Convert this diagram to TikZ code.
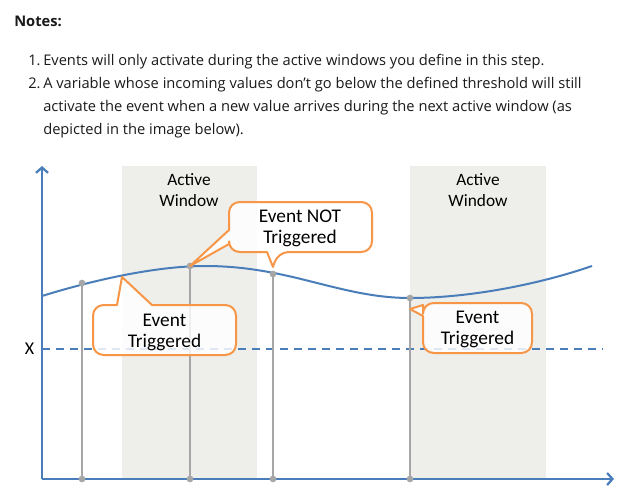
\documentclass[tikz,border=0pt]{standalone}
\usepackage{fontspec}
\setmainfont{Carlito}
\newfontfamily\notesfont{Open Sans}
\usetikzlibrary{arrows.meta}
\definecolor{axisblue}{HTML}{4A7EBB}
\definecolor{bubbleorange}{HTML}{F79646}
\definecolor{windowgray}{HTML}{EEEFEA}
\definecolor{samplegray}{HTML}{A6A6A6}
\definecolor{notetext}{HTML}{1A1A1A}

\begin{document}
\begin{tikzpicture}[x=0.75pt,y=-0.75pt,
  axis/.style={axisblue,line width=1.7pt,-{Straight Barb[length=4pt,width=9pt]}},
  window/.style={fill=windowgray,draw=none},
  sample/.style={samplegray,line width=1.5pt},
  dot/.style={circle,fill=samplegray,inner sep=0pt,minimum size=5pt},
  bubble/.style={draw=bubbleorange,line width=1.5pt,fill=white,fill opacity=0.82,line join=round},
  bubbletext/.style={align=center,inner sep=0pt,font=\fontsize{14.5}{15.75}\selectfont},
  wintext/.style={align=center,inner sep=0pt,font=\fontsize{13}{15.75}\selectfont},
  notes/.style={anchor=base west,inner sep=0pt,text=notetext,font=\notesfont\fontsize{11}{13}\selectfont}]
  \useasboundingbox[fill=white] (0,0) rectangle (637,500);

  % notes above the chart
  \node[notes,font=\notesfont\bfseries\fontsize{11}{13}\selectfont] (head) at (14,26) {Notes:};
  \node[notes] (num1) at (28,65.7) {1.};
  \node[notes] (line1) at (43,65.7) {Events will only activate during the active windows you define in this step.};
  \node[notes] (num2) at (28,88.5) {2.};
  \node[notes] (line2) at (43,88.5) {A variable whose incoming values don’t go below the defined threshold will still};
  \node[notes] (line3) at (43,111.5) {activate the event when a new value arrives during the next active window (as};
  \node[notes] (line4) at (43,134.5) {depicted in the image below).};

  % active windows
  \fill[window] (121.7,166) rectangle (257,479);
  \fill[window] (410,166) rectangle (546,479);
  \node[wintext] (win1) at (189,190) {Active\\Window};
  \node[wintext] (win2) at (478,190) {Active\\Window};

  % threshold
  \draw[axisblue,line width=1.5pt,dash pattern=on 6pt off 4.5pt] (42,349) -- (603,349);
  \node[font=\fontsize{13.5}{15}\selectfont,inner sep=0pt] (xlab) at (29.5,348.5) {X};

  % samples
  \coordinate (origin) at (42,479);
  \coordinate (s1) at (82,283);
  \coordinate (s2) at (190,266);
  \coordinate (s3) at (273,274);
  \coordinate (s4) at (410,298);
  \foreach \s in {s1,s2,s3,s4}
    \draw[sample] (\s) -- (\s |- origin);

  % axes
  \draw[axis] (origin) -- (42,166);
  \draw[axis] (origin) -- (614,479);

  % incoming values
  \draw[axisblue,line width=1.5pt] (42,296) .. controls (100,278) and (160,266) .. (205,266)
       .. controls (290,266) and (340,298) .. (410,298)
       .. controls (470,298) and (540,284) .. (592,266);

  \foreach \s in {s1,s2,s3,s4} {
    \node[dot] at (\s |- origin) {};
    \node[dot] at (\s) {};
  }

  % callouts
  \draw[bubble] (229,230) [rounded corners=8pt] -- (229,202) -- (372,202) -- (372,252) -- (278,252)
       [sharp corners] -- (273,267) -- (267,252) [rounded corners=8pt] -- (229,252) [sharp corners] -- (229,244)
       -- (190,266) -- cycle;
  \node[bubbletext] (nottrig) at (300,228) {Event NOT\\Triggered};

  \draw[bubble] (152,305) [rounded corners=8pt] -- (236,305) -- (236,355) -- (93,355) -- (93,305)
       [sharp corners] -- (117,305) -- (122,277) -- cycle;
  \node[bubbletext] (trig1) at (164.5,332.5) {Event\\Triggered};

  \draw[bubble] (423,316) [rounded corners=8pt] -- (423,353) -- (532,353) -- (532,303) -- (423,303)
       [sharp corners] -- (423,305) -- (410,309) -- cycle;
  \node[bubbletext] (trig2) at (477.5,329.3) {Event\\Triggered};
\end{tikzpicture}
\end{document}
